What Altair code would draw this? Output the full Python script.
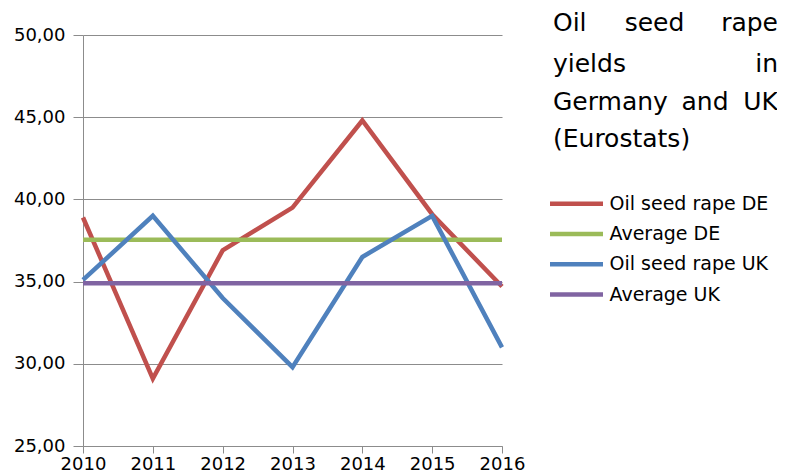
import altair as alt
import pandas as pd

years = [2010, 2011, 2012, 2013, 2014, 2015, 2016]
rape_de = [38.9, 29.1, 36.9, 39.5, 44.8, 39.1, 34.7]
average_de = [37.55, 37.55, 37.55, 37.55, 37.55, 37.55, 37.55]
rape_uk = [35.1, 39.0, 34.0, 29.8, 36.5, 39.0, 31.0]
average_uk = [34.9, 34.9, 34.9, 34.9, 34.9, 34.9, 34.9]
series_names = ["Oil seed rape DE", "Average DE", "Oil seed rape UK", "Average UK"]
series_colors = ["#C0504D", "#9BBB59", "#4F81BD", "#8064A2"]
y_ticks = [25, 30, 35, 40, 45, 50]

rows = []
for name, vals in zip(series_names, [rape_de, average_de, rape_uk, average_uk]):
    for yr, v in zip(years, vals):
        rows.append({"series": name, "year": yr, "value": v, "k": series_names.index(name)})
df = pd.DataFrame(rows)

FONT = "DejaVu Sans"
GRID = "#8C8C8C"

lines = alt.Chart(df).mark_line(strokeWidth=4.5).encode(
    x=alt.X("year:Q",
            scale=alt.Scale(domain=[2010, 2016], nice=False, zero=False),
            axis=alt.Axis(values=years, format="d", title=None, grid=False,
                          tickSize=7, tickColor=GRID, domainColor=GRID,
                          labelPadding=2, labelFontSize=18, labelFont=FONT,
                          labelColor="black", labelFlush=False)),
    y=alt.Y("value:Q",
            scale=alt.Scale(domain=[25, 50], nice=False, zero=False),
            axis=alt.Axis(values=y_ticks, title=None, grid=True, gridColor=GRID,
                          gridWidth=1.2, tickSize=10, tickColor=GRID, domainColor=GRID,
                          labelPadding=8, labelFontSize=18, labelFont=FONT,
                          labelColor="black",
                          labelExpr="replace(format(datum.value, '.2f'), '.', ',')")),
    color=alt.Color("series:N",
                    scale=alt.Scale(domain=series_names, range=series_colors),
                    legend=alt.Legend(title=None, orient="none", legendX=464.5, legendY=158.7,
                                      direction="vertical", symbolType="stroke",
                                      symbolSize=2809, symbolStrokeWidth=4.5,
                                      clipHeight=20,
                                      labelFontSize=19, labelFont=FONT, labelColor="black",
                                      labelOffset=4, rowPadding=10.3, padding=0,
                                      labelLimit=400)),
    detail="k:O",
)


def word(text, x, y, align):
    return alt.Chart(pd.DataFrame({"t": [text]})).mark_text(
        align=align, baseline="alphabetic", fontSize=25, font=FONT, color="black"
    ).encode(x=alt.value(x), y=alt.value(y), text="t:N")


title_layers = [
    word("Oil", 470, -4, "left"),
    word("seed", 571.5, -4, "center"),
    word("rape", 695, -4, "right"),
    word("yields", 470, 36.7, "left"),
    word("in", 695, 36.7, "right"),
    word("Germany", 470, 75, "left"),
    word("and", 622, 75, "center"),
    word("UK", 695, 75, "right"),
    word("(Eurostats)", 470, 111.7, "left"),
]

chart = alt.layer(lines, *title_layers).properties(
    width=419, height=411,
    autosize=alt.AutoSizeParams(type="none"),
    padding={"left": 75, "top": 27, "right": 275, "bottom": 28},
).configure_view(stroke=None)

chart.save("out.html", embed_options={"renderer": "svg", "actions": False})
